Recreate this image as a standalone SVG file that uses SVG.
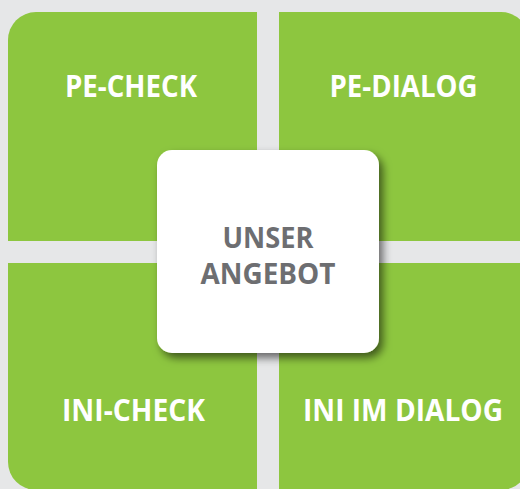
<svg xmlns="http://www.w3.org/2000/svg" width="520" height="489" viewBox="0 0 520 489">
  <style>
    .tile { fill: #8dc63f; }
    .label { font-family: "Open Sans", "Liberation Sans", sans-serif; font-weight: 700; fill: #ffffff; text-anchor: middle; }
    .center { font-family: "Open Sans", "Liberation Sans", sans-serif; font-weight: 700; fill: #6d6e71; text-anchor: middle; }
  </style>
  <defs>
    <clipPath id="outline">
      <rect x="8" y="12" width="521" height="478" rx="28" ry="28"/>
    </clipPath>
    <filter id="shadow" x="-20%" y="-20%" width="150%" height="150%">
      <feDropShadow dx="4" dy="5" stdDeviation="4.5" flood-color="#000000" flood-opacity="0.55"/>
    </filter>
  </defs>

  <rect x="0" y="0" width="520" height="489" fill="#e6e7e8"/>

  <g clip-path="url(#outline)">
    <g id="pe-check">
      <rect class="tile" x="8" y="12" width="249" height="229"/>
      <text class="label" x="131" y="97" font-size="30" textLength="132" lengthAdjust="spacingAndGlyphs">PE-CHECK</text>
    </g>
    <g id="pe-dialog">
      <rect class="tile" x="279" y="12" width="250" height="229"/>
      <text class="label" x="403.5" y="97" font-size="30" textLength="148" lengthAdjust="spacingAndGlyphs">PE-DIALOG</text>
    </g>
    <g id="ini-check">
      <rect class="tile" x="8" y="263" width="249" height="227"/>
      <text class="label" x="133.5" y="421" font-size="30" textLength="143" lengthAdjust="spacingAndGlyphs">INI-CHECK</text>
    </g>
    <g id="ini-im-dialog">
      <rect class="tile" x="279" y="263" width="250" height="227"/>
      <text class="label" x="403" y="421" font-size="30" textLength="200" lengthAdjust="spacingAndGlyphs">INI IM DIALOG</text>
    </g>
  </g>

  <g id="unser-angebot">
    <rect x="157" y="150" width="222" height="203" rx="15" ry="15" fill="#ffffff" filter="url(#shadow)"/>
    <text class="center" x="268" y="248" font-size="28" textLength="91" lengthAdjust="spacingAndGlyphs">UNSER</text>
    <text class="center" x="268" y="284" font-size="28" textLength="135" lengthAdjust="spacingAndGlyphs">ANGEBOT</text>
  </g>

  <g id="connectors"/>
</svg>
